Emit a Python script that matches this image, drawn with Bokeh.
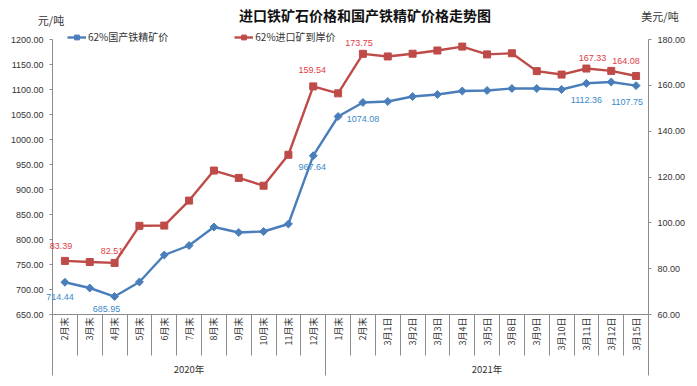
import numpy as np
from bokeh.plotting import figure
from bokeh.models import (Range1d, LinearAxis, FixedTicker, NumeralTickFormatter,
                          Legend, LegendItem, Label)
from bokeh.embed import file_html
from bokeh.resources import INLINE

# ---------------- data ----------------
categories = ["2月末", "3月末", "4月末", "5月末", "6月末", "7月末", "8月末", "9月末",
              "10月末", "11月末", "12月末",
              "1月末", "2月末", "3月1日", "3月2日", "3月3日", "3月4日", "3月5日",
              "3月8日", "3月9日", "3月10日", "3月11日", "3月12日", "3月15日"]
years = ["2020年", "2021年"]
year_counts = [11, 13]

domestic = [714.44, 703, 685.95, 715, 769, 788, 825, 814, 816, 831, 967.64,
            1046, 1074.08, 1076, 1086, 1090, 1097, 1098, 1102, 1102, 1100,
            1112.36, 1115, 1107.75]          # 元/吨, left axis
imported = [83.39, 82.9, 82.51, 98.7, 98.8, 109.7, 122.8, 119.6, 116.2, 129.7,
            159.54, 156.5, 173.75, 172.6, 173.8, 175.2, 176.9, 173.5, 174.0,
            166.2, 164.7, 167.33, 166.3, 164.08]  # 美元/吨, right axis

labelled_idx = [0, 2, 10, 12, 21, 23]

left_ticks = [650, 700, 750, 800, 850, 900, 950, 1000, 1050, 1100, 1150, 1200]
right_ticks = [60, 80, 100, 120, 140, 160, 180]

title_text = "进口铁矿石价格和国产铁精矿价格走势图"
left_unit = "元/吨"
right_unit = "美元/吨"
legend_labels = ["62%国产铁精矿价", "62%进口矿到岸价"]

# ---------------- style ----------------
BLUE = "#4A7EBB"
RED = "#BE4B48"
BLUE_TXT = "#3B8AC8"
RED_TXT = "#E03C45"
AXIS = "#8C8C8C"
TXT = "#333333"
CJK = "Noto Sans CJK SC"
NUM = "Liberation Sans"

W, H = 689, 378
PL, PR = 52, 648          # plot-area left / right (px)
FB = 314                  # plot-area bottom (px)
Y_TOP_TICK = 39           # pixel row of the 1200 / 180 ticks
GROUP_ROW = 353           # pixel row where the year-group axis starts

n = len(categories)
xs = list(range(n))

# the frame covers the whole canvas; the plot area sits inside it
ppu = (PR - PL) / n
x0 = -0.5 - PL / ppu
x1 = (n - 0.5) + (W - PR) / ppu

lo, hi = left_ticks[0], left_ticks[-1]
upp_l = (hi - lo) / (FB - Y_TOP_TICK)
rlo, rhi = right_ticks[0], right_ticks[-1]
upp_r = (rhi - rlo) / (FB - Y_TOP_TICK)

p = figure(width=W, height=H, output_backend="svg", toolbar_location=None,
           x_range=Range1d(x0, x1),
           y_range=Range1d(lo - (H - FB) * upp_l, hi + Y_TOP_TICK * upp_l),
           x_axis_location=None, y_axis_location=None,
           min_border_left=0, min_border_right=0, min_border_top=0, min_border_bottom=0)
p.extra_y_ranges = {"usd": Range1d(rlo - (H - FB) * upp_r, rhi + Y_TOP_TICK * upp_r)}
p.xgrid.visible = False
p.ygrid.visible = False
p.outline_line_color = None
p.background_fill_color = "white"
p.border_fill_color = "white"


def style_y(ax):
    ax.formatter = NumeralTickFormatter(format="0.00")
    ax.axis_line_color = AXIS
    ax.major_tick_line_color = AXIS
    ax.major_tick_out = 3
    ax.major_tick_in = 0
    ax.minor_tick_line_color = None
    ax.major_label_standoff = 6
    ax.major_label_text_font = NUM
    ax.major_label_text_font_size = "9px"
    ax.major_label_text_color = TXT


yl = LinearAxis(ticker=FixedTicker(ticks=left_ticks), bounds=(lo, hi), fixed_location=-0.5)
style_y(yl)
p.add_layout(yl, "left")
yr = LinearAxis(ticker=FixedTicker(ticks=right_ticks), y_range_name="usd", bounds=(rlo, rhi),
                fixed_location=n - 0.5)
style_y(yr)
p.add_layout(yr, "right")

# category axis (dividers drawn as minor ticks)
bounds = [i - 0.5 for i in range(n + 1)]
xa = LinearAxis(ticker=FixedTicker(ticks=xs, minor_ticks=bounds), bounds=(-0.5, n - 0.5),
                fixed_location=lo)
xa.major_label_overrides = {i: c for i, c in enumerate(categories)}
xa.major_label_orientation = np.pi / 2
xa.major_tick_out = 0
xa.major_tick_in = 0
xa.major_tick_line_color = None
xa.minor_tick_out = 41
xa.minor_tick_in = 0
xa.minor_tick_line_color = AXIS
xa.axis_line_color = AXIS
xa.major_label_standoff = -38
xa.major_label_text_font = CJK
xa.major_label_text_font_size = "9px"
xa.major_label_text_color = TXT
p.add_layout(xa, "below")

# year group axis
starts = np.cumsum([0] + year_counts)
group_centers = [int(round((starts[k] + starts[k + 1] - 1) / 2)) for k in range(len(years))]
group_bounds = [float(s) - 0.5 for s in starts]
ga = LinearAxis(ticker=FixedTicker(ticks=group_centers, minor_ticks=group_bounds),
                bounds=(-0.5, n - 0.5), fixed_location=lo - (GROUP_ROW - FB) * upp_l)
ga.major_label_overrides = {c: y for c, y in zip(group_centers, years)}
ga.major_tick_out = 0
ga.major_tick_in = 0
ga.major_tick_line_color = None
ga.minor_tick_out = 22
ga.minor_tick_in = 0
ga.minor_tick_line_color = AXIS
ga.axis_line_color = None
ga.major_label_standoff = -14
ga.major_label_text_font = CJK
ga.major_label_text_font_size = "9.5px"
ga.major_label_text_color = TXT
p.add_layout(ga, "below")

# series
bl = p.line(xs, domestic, line_color=BLUE, line_width=2.4)
bs = p.scatter(xs, domestic, marker="square", angle=np.pi / 4, size=5.6,
               fill_color=BLUE, line_color=BLUE)
rl = p.line(xs, imported, line_color=RED, line_width=2.4, y_range_name="usd")
rs = p.scatter(xs, imported, marker="square", size=7, fill_color=RED, line_color=RED,
               y_range_name="usd")

# data labels
red_dx = [-4, -2.5, -1, -4, 6, -10]
red_dy = [15, 12, 16, 11, 11, 15]
blue_dx = [-5, -8, -1, 0, 0, -9]
blue_dy = [-15, -12, -11, -16.5, -17, -16]

for k, i in enumerate(labelled_idx):
    p.add_layout(Label(x=xs[i], y=imported[i], y_range_name="usd",
                       text=f"{imported[i]:.2f}", x_offset=red_dx[k], y_offset=red_dy[k],
                       text_align="center", text_baseline="middle",
                       text_font=NUM, text_font_size="9px", text_color=RED_TXT))
    p.add_layout(Label(x=xs[i], y=domestic[i],
                       text=f"{domestic[i]:.2f}", x_offset=blue_dx[k], y_offset=blue_dy[k],
                       text_align="center", text_baseline="middle",
                       text_font=NUM, text_font_size="9px", text_color=BLUE_TXT))

# legend (screen position: x from canvas left, y up from canvas bottom)
legend = Legend(items=[LegendItem(label=legend_labels[0], renderers=[bl, bs]),
                       LegendItem(label=legend_labels[1], renderers=[rl, rs])],
                location=(67, H - 37.5 - 6.5), orientation="horizontal",
                background_fill_alpha=0, border_line_color=None,
                padding=0, margin=0, spacing=66, label_standoff=2,
                glyph_width=19, glyph_height=12, label_height=12,
                label_text_font=CJK, label_text_font_size="10px",
                label_text_color=TXT)
p.add_layout(legend)

# title and unit captions
p.add_layout(Label(x=364.5, y=H - 14, x_units="screen", y_units="screen",
                   text=title_text, text_align="center",
                   text_baseline="middle", text_font=CJK, text_font_size="14px",
                   text_font_style="bold", text_color="#111111"))
p.add_layout(Label(x=50.5, y=H - 19, x_units="screen", y_units="screen",
                   text=left_unit, text_align="center", text_baseline="middle",
                   text_font=CJK, text_font_size="11px", text_color=TXT))
p.add_layout(Label(x=659.5, y=H - 15, x_units="screen", y_units="screen",
                   text=right_unit, text_align="center", text_baseline="middle",
                   text_font=CJK, text_font_size="11px", text_color=TXT))

open("out.html", "w").write(file_html(p, INLINE))
